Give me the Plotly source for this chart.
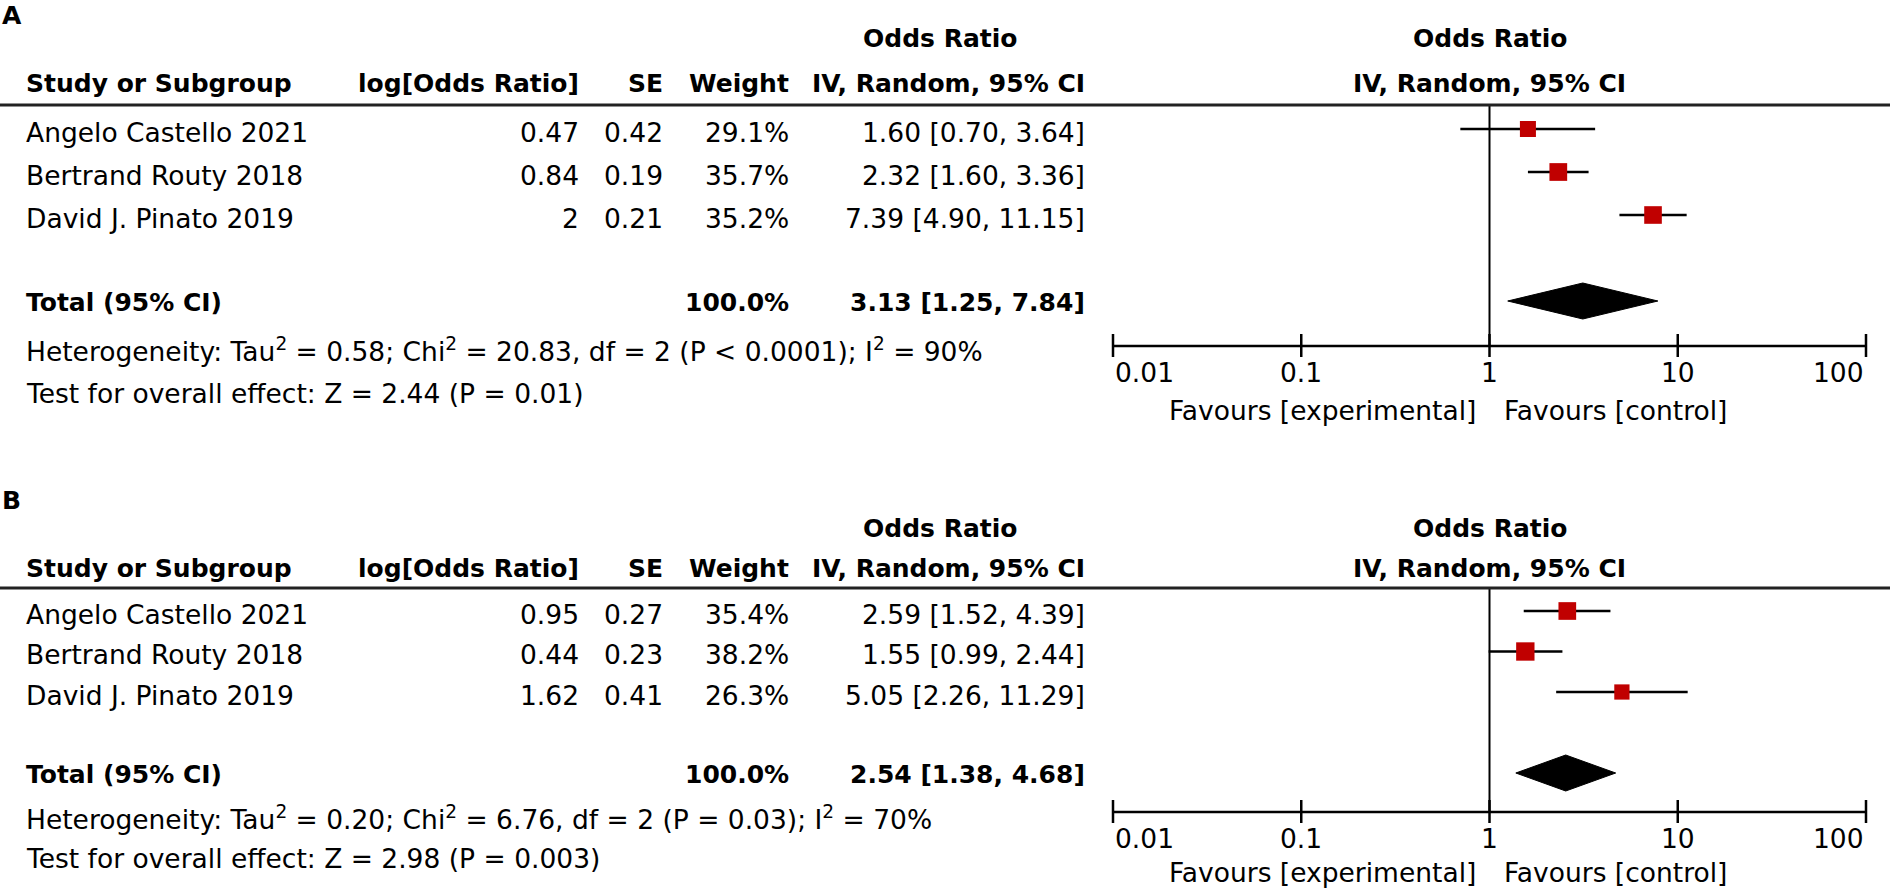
import math
import plotly.graph_objects as go

# ---------------- data ----------------
studies = ["Angelo Castello 2021", "Bertrand Routy 2018", "David J. Pinato 2019"]

# panel A
a_log_or = [0.47, 0.84, 2]
a_se = [0.42, 0.19, 0.21]
a_weight = [29.1, 35.7, 35.2]
a_or = [1.60, 2.32, 7.39]
a_lo = [0.70, 1.60, 4.90]
a_hi = [3.64, 3.36, 11.15]
a_total = [3.13, 1.25, 7.84]
a_het = "Heterogeneity: Tau<sup>2</sup> = 0.58; Chi<sup>2</sup> = 20.83, df = 2 (P &lt; 0.0001); I<sup>2</sup> = 90%"
a_test = "Test for overall effect: Z = 2.44 (P = 0.01)"

# panel B
b_log_or = [0.95, 0.44, 1.62]
b_se = [0.27, 0.23, 0.41]
b_weight = [35.4, 38.2, 26.3]
b_or = [2.59, 1.55, 5.05]
b_lo = [1.52, 0.99, 2.26]
b_hi = [4.39, 2.44, 11.29]
b_total = [2.54, 1.38, 4.68]
b_het = "Heterogeneity: Tau<sup>2</sup> = 0.20; Chi<sup>2</sup> = 6.76, df = 2 (P = 0.03); I<sup>2</sup> = 70%"
b_test = "Test for overall effect: Z = 2.98 (P = 0.003)"

total_weight = "100.0%"
tick_vals = [0.01, 0.1, 1, 10, 100]
tick_text = ["0.01", "0.1", "1", "10", "100"]

# ---------------- layout constants (pixels) ----------------
W, H = 1890, 890
FONT = "DejaVu Sans"
REG = 26.5
BOLD = 25
RED = "#c00000"

# column anchors
X_NAME = 24
X_LOGOR = 581
X_SE = 665
X_WEIGHT = 791
X_CI = 1087
X_ORHEAD = 940
X_FAV_L = 1478
X_FAV_R = 1502

# vertical geometry of each panel
geoms = [
    dict(tag=16, title1=38, title2=83, line=105, row0=129, step=43,
         het=350, test=393, axis=346, ticklab=373, fav=411, bottom=362),
    dict(tag=500, title1=528, title2=568, line=588, row0=611, step=40.5,
         het=818, test=858, axis=812, ticklab=838, fav=872, bottom=828),
]

panels = [
    dict(tag="A", log_or=a_log_or, se=a_se, weight=a_weight, orv=a_or, lo=a_lo, hi=a_hi,
         total=a_total, het=a_het, test=a_test),
    dict(tag="B", log_or=b_log_or, se=b_se, weight=b_weight, orv=b_or, lo=b_lo, hi=b_hi,
         total=b_total, het=b_het, test=b_test),
]


def py(p):
    return 1 - p / H


def px(p):
    return p / W


fig = go.Figure()
annotations = []
shapes = []

for k, (pan, g) in enumerate(zip(panels, geoms)):
    xa = "x" if k == 0 else "x2"
    ya = "y" if k == 0 else "y2"
    step = g["step"]

    def idx(p):
        return (p - g["row0"]) / step

    rows = list(range(len(studies)))
    total_i = 4
    axis_i = idx(g["axis"])
    top_i = idx(g["line"])

    # axis line and ticks
    fig.add_trace(go.Scatter(x=[tick_vals[0], tick_vals[-1]], y=[axis_i, axis_i], mode="lines",
                             line=dict(color="black", width=2.5), xaxis=xa, yaxis=ya,
                             hoverinfo="skip"))
    tx, ty = [], []
    for v in tick_vals:
        tx += [v, v, None]
        ty += [axis_i - 12 / step, axis_i + 11 / step, None]
    fig.add_trace(go.Scatter(x=tx, y=ty, mode="lines", line=dict(color="black", width=2.5),
                             xaxis=xa, yaxis=ya, hoverinfo="skip"))

    # line of no effect
    fig.add_trace(go.Scatter(x=[1, 1], y=[top_i, axis_i], mode="lines",
                             line=dict(color="black", width=2), xaxis=xa, yaxis=ya,
                             hoverinfo="skip"))

    # CI lines
    cx, cy = [], []
    for i in rows:
        cx += [pan["lo"][i], pan["hi"][i], None]
        cy += [i, i, None]
    fig.add_trace(go.Scatter(x=cx, y=cy, mode="lines", line=dict(color="black", width=2.5),
                             xaxis=xa, yaxis=ya))

    # study squares
    fig.add_trace(go.Scatter(x=pan["orv"], y=rows, mode="markers",
                             marker=dict(symbol="square", color=RED, opacity=1,
                                         size=[2.97 * math.sqrt(w) for w in pan["weight"]],
                                         line=dict(width=0)),
                             xaxis=xa, yaxis=ya, cliponaxis=False))

    # pooled diamond
    est, lo, hi = pan["total"]
    h = 18 / step
    fig.add_trace(go.Scatter(x=[lo, est, hi, est, lo],
                             y=[total_i, total_i - h, total_i, total_i + h, total_i],
                             mode="lines", fill="toself", fillcolor="black",
                             line=dict(color="black", width=1), xaxis=xa, yaxis=ya))

    # header rule
    shapes.append(dict(type="line", xref="paper", yref="paper", x0=0, x1=1,
                       y0=py(g["line"]), y1=py(g["line"]),
                       line=dict(color="#222", width=3)))

    def txt(text, x, y, anchor="left", bold=False, xref="paper"):
        annotations.append(dict(
            text=f"<b>{text}</b>" if bold else text,
            x=x if xref != "paper" else px(x), y=py(y), xref=xref, yref="paper",
            xanchor=anchor, yanchor="middle", showarrow=False,
            font=dict(family=FONT, size=BOLD if bold else REG, color="black")))

    # panel letter
    txt(pan["tag"], 0, g["tag"], bold=True)

    # headers
    txt("Odds Ratio", X_ORHEAD, g["title1"], "center", True)
    txt("Odds Ratio", 0, g["title1"], "center", True, xref=xa)
    txt("IV, Random, 95% CI", 0, g["title2"], "center", True, xref=xa)
    txt("Study or Subgroup", X_NAME, g["title2"], "left", True)
    txt("log[Odds Ratio]", X_LOGOR, g["title2"], "right", True)
    txt("SE", X_SE, g["title2"], "right", True)
    txt("Weight", X_WEIGHT, g["title2"], "right", True)
    txt("IV, Random, 95% CI", X_CI, g["title2"], "right", True)

    # study rows
    for i in rows:
        yy = g["row0"] + i * step + 3
        txt(studies[i], X_NAME, yy)
        txt(f"{pan['log_or'][i]:g}", X_LOGOR, yy, "right")
        txt(f"{pan['se'][i]:.2f}", X_SE, yy, "right")
        txt(f"{pan['weight'][i]:.1f}%", X_WEIGHT, yy, "right")
        txt(f"{pan['orv'][i]:.2f} [{pan['lo'][i]:.2f}, {pan['hi'][i]:.2f}]", X_CI, yy, "right")

    # total row
    yy = g["row0"] + total_i * step + 1
    txt("Total (95% CI)", X_NAME, yy, "left", True)
    txt(total_weight, X_WEIGHT, yy, "right", True)
    txt(f"{est:.2f} [{lo:.2f}, {hi:.2f}]", X_CI, yy, "right", True)

    txt(pan["het"], X_NAME, g["het"])
    txt(pan["test"], X_NAME, g["test"])

    # tick labels
    anchors = ["left", "center", "center", "center", "right"]
    for v, t, a in zip(tick_vals, tick_text, anchors):
        txt(t, math.log10(v), g["ticklab"], a, xref=xa)

    txt("Favours [experimental]", X_FAV_L, g["fav"], "right")
    txt("Favours [control]", X_FAV_R, g["fav"], "left")

# axes: x in log scale, y in row units
x_lo, x_hi = 1113, 1866
pad = 0.03
dec = (x_hi - x_lo) / 4.0
xdom = [px(x_lo - pad * dec), px(x_hi + pad * dec)]
xaxis_common = dict(type="log", range=[-2 - pad, 2 + pad], domain=xdom, visible=False,
                    fixedrange=True)

layout_axes = {}
for k, g in enumerate(geoms):
    s = "" if k == 0 else "2"
    step = g["step"]
    y_bottom = (g["bottom"] - g["row0"]) / step
    y_top = (g["line"] - g["row0"]) / step
    layout_axes[f"xaxis{s}"] = dict(xaxis_common, anchor=f"y{s}")
    layout_axes[f"yaxis{s}"] = dict(range=[y_bottom, y_top], domain=[py(g["bottom"]), py(g["line"])],
                                    visible=False, anchor=f"x{s}", fixedrange=True)

fig.update_layout(
    width=W, height=H,
    margin=dict(l=0, r=0, t=0, b=0),
    paper_bgcolor="white", plot_bgcolor="white",
    showlegend=False,
    annotations=annotations,
    shapes=shapes,
    **layout_axes,
)

# drop the browser's default body margin so the figure sits at the window corner
fig.write_html("out.html", config={"displayModeBar": False},
               post_script="document.body.style.margin='0';document.body.style.overflow='hidden';")
